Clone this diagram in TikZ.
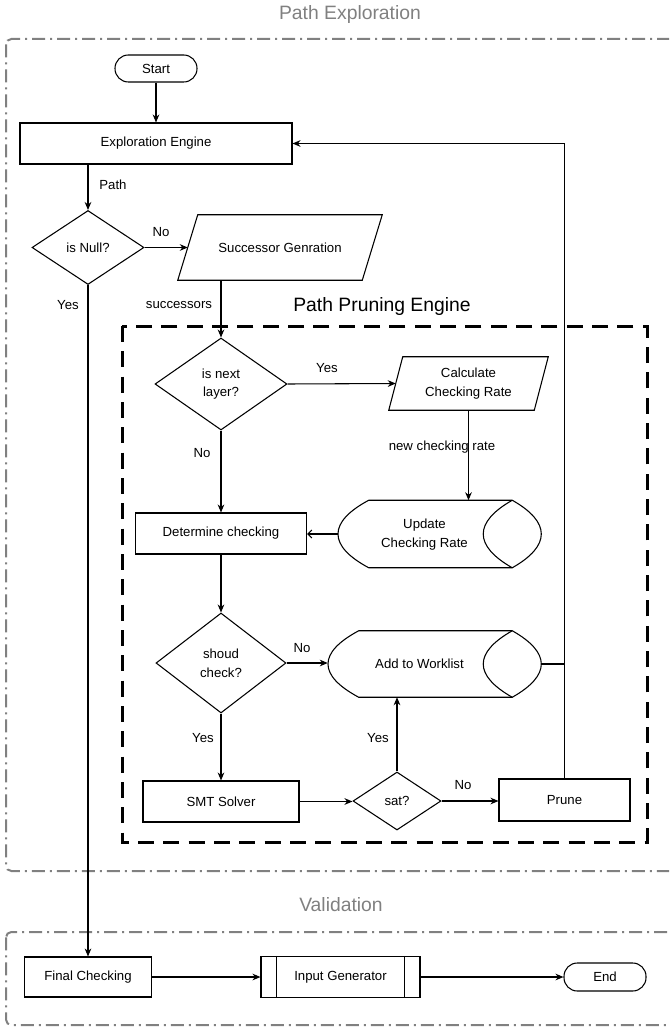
\documentclass[tikz,border=0pt]{standalone}
\usepackage{fontspec}
\setmainfont{Liberation Sans}
\usetikzlibrary{shapes.geometric,arrows.meta,calc}
\definecolor{grp}{RGB}{128,128,128}
\newcommand\ddshape[1]{%
  \draw[line width=0.8pt] ($(#1.north west)+(31,0)$) -- ($(#1.north east)+(-29,0)$)
    .. controls ($(#1.north east)+(9.7,22)$) and ($(#1.south east)+(9.7,-22)$) .. ($(#1.south east)+(-29,0)$)
    -- ($(#1.south west)+(31,0)$)
    .. controls ($(#1.south west)+(-10,-22)$) and ($(#1.north west)+(-10,22)$) .. cycle;
  \draw[line width=0.8pt] ($(#1.north east)+(-29,0)$)
    .. controls ($(#1.north east)+(-67.7,22)$) and ($(#1.south east)+(-67.7,-22)$) .. ($(#1.south east)+(-29,0)$);}
\newcommand\parashape[2]{%
  \draw[line width=0.8pt] ($(#1.north west)+(#2,0)$) -- ($(#1.north east)+(#2,0)$)
    -- ($(#1.south east)+(-#2,0)$) -- ($(#1.south west)+(-#2,0)$) -- cycle;}
\begin{document}
\begin{tikzpicture}[x=0.75pt,y=-0.75pt,
  every node/.style={font=\fontsize{9.9}{14}\selectfont, inner sep=0pt, align=center},
  box/.style={draw, rectangle, line width=0.8pt},
  term/.style={draw, rectangle, rounded corners=10pt, line width=0.8pt, minimum width=61.5pt},
  dia/.style={draw, diamond, line width=0.8pt},
  shapeonly/.style={rectangle, draw=none},
  lbl/.style={font=\fontsize{9.9}{12}\selectfont},
  title/.style={font=\fontsize{14.5}{17}\selectfont},
  arr/.style={line width=0.8pt, -{Stealth[length=6pt,width=5pt]}},
  openarr/.style={line width=0.8pt, -{Straight Barb[length=3pt,width=6pt]}},
  plain/.style={line width=0.8pt},
  group/.style={draw=grp, line width=1.5pt, rounded corners=4pt,
    dash pattern=on 9.75pt off 3.75pt on 1.5pt off 3.75pt},
  engine/.style={draw=black, line width=2.25pt, dash pattern=on 12pt off 7pt}
]
\useasboundingbox (0,0) rectangle (669,1030);
\clip (0,0) rectangle (669,1030);

% containers
\draw[group] (6,39) rectangle (700,871);
\draw[group] (6,932) rectangle (700,1025);
\draw[engine] (122,326) rectangle (647,842);
\node[title, text=grp] (tpe) at (350,15) {Path Exploration};
\node[title, text=grp] (tval) at (341,905) {Validation};
\node[title] (tppe) at (382,307) {Path Pruning Engine};

% nodes
\node[term, minimum height=20.25pt] (start) at (156,68.5) {Start};
\node[box, minimum width=204pt, minimum height=30.75pt] (explore) at (156,143.5) {Exploration Engine};
\node[dia, minimum width=84pt, minimum height=55.5pt] (isnull) at (88,247.5) {is Null?};
\node[shapeonly, minimum width=138pt, minimum height=48.75pt] (succ) at (280,247.5) {Successor Genration};
\parashape{succ}{10}
\node[dia, minimum width=99pt, minimum height=69pt] (isnext) at (221,384) {is next\\layer?};
\node[shapeonly, minimum width=108.75pt, minimum height=39.75pt] (calc) at (468.5,383.5) {Calculate\\Checking Rate};
\parashape{calc}{7}
\node[box, minimum width=128.25pt, minimum height=30.75pt] (det) at (221,533.5) {Determine checking};
\node[shapeonly, minimum width=152.25pt, minimum height=50.25pt] (upd) at (439.5,534)
  {\begin{tabular}{@{}c@{}}Update\\Checking Rate\end{tabular}\hspace*{22.5pt}};
\ddshape{upd}
\node[dia, minimum width=97.5pt, minimum height=75pt] (should) at (221,663) {shoud\\check?};
\node[shapeonly, minimum width=159.75pt, minimum height=49.5pt] (add) at (434.5,664)
  {Add to Worklist\hspace*{22.5pt}};
\ddshape{add}
\node[box, minimum width=117pt, minimum height=30.75pt] (smt) at (221,801.5) {SMT Solver};
\node[dia, minimum width=66pt, minimum height=43.5pt] (sat) at (397,801) {sat?};
\node[box, minimum width=98.25pt, minimum height=31.5pt] (prune) at (564.5,800) {Prune};
\node[box, minimum width=95.25pt, minimum height=30pt] (fin) at (88,977) {Final Checking};
\node[box, minimum width=119.25pt, minimum height=30.75pt] (inp) at (340.5,977) {Input Generator};
\draw[plain] ($(inp.north west)+(16,0)$) -- ($(inp.south west)+(16,0)$);
\draw[plain] ($(inp.north east)+(-16,0)$) -- ($(inp.south east)+(-16,0)$);
\node[term, minimum height=21pt] (end) at (605,977) {End};

% connectors
\draw[arr] (start) -- (explore);
\draw[arr] (isnull.north |- explore.south) -- (isnull.north);
\draw[arr] (isnull.east) -- (succ.west);
\draw[arr] (isnull.south) -- (fin.north);
\draw[arr] (isnext.north |- succ.south) -- (isnext.north);
\draw[arr] (isnext.east) -- (calc.west);
\draw[arr] (isnext.south) -- (det.north);
\draw[arr] (calc.south) -- (calc.south |- upd.north);
\draw[openarr] (upd.west) -- (upd.west -| det.east);
\draw[arr] (det.south) -- (should.north);
\draw[arr] (should.east) -- (should.east -| add.west);
\draw[arr] (should.south) -- (smt.north);
\draw[arr] (smt.east) -- (smt.east -| sat.west);
\draw[arr] (sat.east) -- (sat.east -| prune.west);
\draw[arr] (sat.north) -- (sat.north |- add.south);
\draw[arr] (prune.north) |- (explore.east);
\draw[plain] (add.east) -- (add.east -| prune.north);
\draw[arr] (fin.east) -- (inp.west);
\draw[arr] (inp.east) -- (end.west);

% labels
\node[lbl] (lpath) at (113,185) {Path};
\node[lbl] (lno1) at (161,232) {No};
\node[lbl] (lyes1) at (68,305) {Yes};
\node[lbl] (lsucc) at (179,305) {successors};
\node[lbl] (lyes2) at (327,368) {Yes};
\node[lbl] (lno2) at (202,453) {No};
\node[lbl] (lncr) at (442,447) {new checking rate};
\node[lbl] (lno3) at (302,648) {No};
\node[lbl] (lyes3) at (203,738) {Yes};
\node[lbl] (lyes4) at (378,738) {Yes};
\node[lbl] (lno4) at (463,785) {No};
\end{tikzpicture}
\end{document}
